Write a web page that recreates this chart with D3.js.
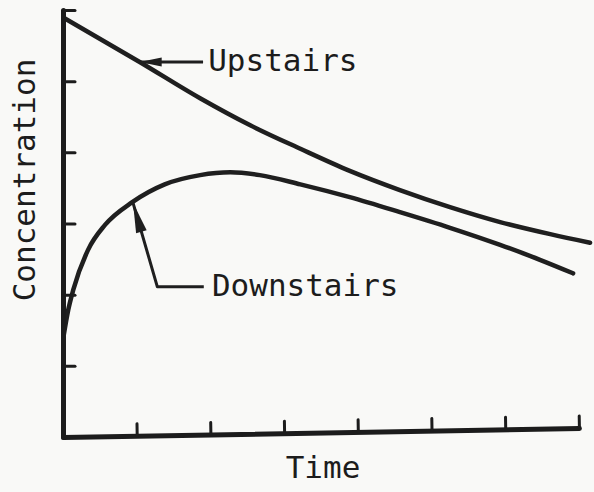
<!DOCTYPE html>
<html>
<head>
<meta charset="utf-8">
<script src="https://cdn.jsdelivr.net/npm/d3@7/dist/d3.min.js"></script>
<style>
  body { margin: 0; background: #f9f9f7; }
  svg { display: block; font-family: "DejaVu Sans Mono", monospace; }
  .axis path, .axis line { stroke: #1c1c1c; fill: none; stroke-linecap: round; }
  .axis path { stroke-width: 5; }
  .axis line { stroke-width: 3; }
  .curve { fill: none; stroke: #1f1f1f; stroke-width: 4.5; stroke-linecap: round; }
  .lead { fill: none; stroke: #1f1f1f; stroke-width: 3; stroke-linejoin: round; }
  .head { fill: #1f1f1f; }
  text { fill: #1c1c1c; font-size: 31px; }
</style>
</head>
<body>
<svg id="svg" width="594" height="492"></svg>
<script>
// tick values (no numbers printed on the original)
var xTicks = [1, 2, 3, 4, 5, 6, 7];
var yTicks = [1, 2, 3, 4, 5, 6];

// upstairs concentration vs time (arbitrary units)
var upTime = [0.01, 1.04, 1.86, 2.54, 3.22, 3.89, 4.57, 5.25, 5.93, 6.61, 7.15];
var upConc = [5.89, 5.27, 4.76, 4.38, 4.05, 3.74, 3.47, 3.23, 3.02, 2.85, 2.73];

// downstairs concentration vs time
var downTime = [0.01, 0.07, 0.14, 0.34, 0.57, 0.94, 1.38, 1.86, 2.27, 2.67, 3.22, 3.89, 4.57, 5.25, 5.93, 6.47, 6.92];
var downConc = [1.43, 1.78, 2.07, 2.63, 2.98, 3.30, 3.55, 3.68, 3.72, 3.68, 3.55, 3.37, 3.16, 2.94, 2.70, 2.49, 2.30];

// labels with their leader lines (data units), last point is the arrow tip
var upLabel = "Upstairs";
var upLabelAt = [1.97, 5.14];
var upLeader = [[1.90, 5.27], [1.04, 5.27]];
var downLabel = "Downstairs";
var downLabelAt = [2.02, 1.98];
var downLeader = [[1.91, 2.11], [1.28, 2.11], [0.95, 3.29]];

var svg = d3.select("#svg");

var x = d3.scaleLinear().domain([0, 7]).range([63, 579]);
var y = d3.scaleLinear().domain([0, 6]).range([437, 10]);

var line = d3.line()
    .x(function(d) { return x(d[0]); })
    .y(function(d) { return y(d[1]); })
    .curve(d3.curveMonotoneX);

var upData = d3.zip(upTime, upConc);
var downData = d3.zip(downTime, downConc);

svg.append("path").attr("class", "curve").attr("d", line(upData));
svg.append("path").attr("class", "curve").attr("d", line(downData));

// axes: ticks pointing inwards, no labels; the scanned x axis is slightly tilted
svg.append("g")
    .attr("class", "axis")
    .attr("transform", "translate(0," + y(0) + ") rotate(-1," + x(0) + ",0)")
    .call(d3.axisBottom(x).tickValues(xTicks).tickSizeInner(-12).tickSizeOuter(0).tickFormat(""));

svg.append("g")
    .attr("class", "axis")
    .attr("transform", "translate(" + x(0) + ",0)")
    .call(d3.axisLeft(y).tickValues(yTicks).tickSizeInner(-12).tickSizeOuter(0).tickFormat(""));

// leader lines with arrow heads
var straight = d3.line()
    .x(function(d) { return x(d[0]); })
    .y(function(d) { return y(d[1]); });

function arrow(points, len, half) {
    svg.append("path").attr("class", "lead").attr("d", straight(points));
    var a = points[points.length - 2], b = points[points.length - 1];
    var tx = x(b[0]), ty = y(b[1]);
    var dx = x(a[0]) - tx, dy = y(a[1]) - ty;
    var n = Math.sqrt(dx * dx + dy * dy);
    dx /= n; dy /= n;
    var bx = tx + dx * len, by = ty + dy * len;
    svg.append("path").attr("class", "head")
        .attr("d", "M" + tx + "," + ty +
            "L" + (bx - dy * half) + "," + (by + dx * half) +
            "L" + (bx + dy * half) + "," + (by - dx * half) + "Z");
}

arrow(upLeader, 22, 4.5);
arrow(downLeader, 30, 5.5);

svg.append("text").attr("x", x(upLabelAt[0])).attr("y", y(upLabelAt[1])).text(upLabel);
svg.append("text").attr("x", x(downLabelAt[0])).attr("y", y(downLabelAt[1])).text(downLabel);

// axis titles
svg.append("text")
    .attr("x", 323).attr("y", 478)
    .style("text-anchor", "middle")
    .text("Time");

svg.append("text")
    .attr("transform", "translate(35,180) rotate(-90)")
    .style("text-anchor", "middle")
    .text("Concentration");
</script>
</body>
</html>
